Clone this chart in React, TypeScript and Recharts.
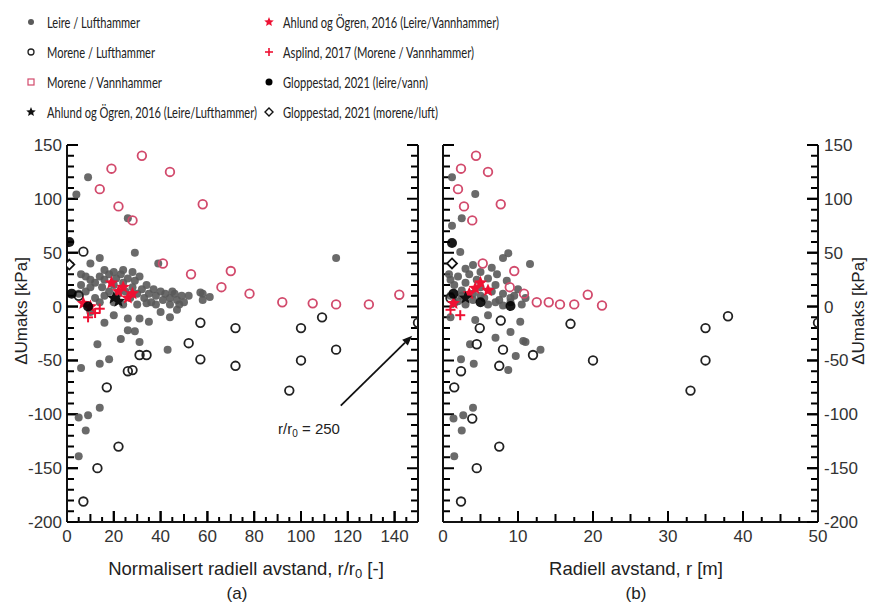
import { ScatterChart, Scatter, XAxis, YAxis, ReferenceLine } from 'recharts';

// ---------- panel (a): normalisert radiell avstand r/r0 ----------
const leireLuftA = [
  [9, 120], [4, 104], [26, 82], [29, 50], [39, 40], [14, 45], [10, 40], [115, 45],
  [58, 12], [61, 9], [58, 6], [46, 12], [57, 13],
  [6, 30], [8, 28], [10, 25], [12, 22], [14, 28], [15, 18], [16, 25], [18, 30], [18, 14],
  [20, 20], [21, 26], [22, 12], [23, 30], [24, 22], [25, 14], [26, 26], [27, 8], [28, 18],
  [29, 24], [30, 12], [31, 28], [32, 16], [33, 8], [34, 20], [35, 12], [36, 4], [37, 16],
  [38, 10], [40, 14], [41, 6], [42, 12], [44, 8], [45, 14], [47, 6], [49, 10], [12, 8],
  [14, 4], [16, 10], [8, 14], [10, 18], [6, 20], [5, 12], [20, 4], [24, 2], [30, 2],
  [34, 3], [38, 2], [44, 2], [48, 2], [50, 4], [52, 10], [28, 32], [24, 34], [20, 32], [16, 34],
  [26, -11], [31, -11], [35, -14], [16, -15], [26, -22], [29, -23], [23, -30], [31, -33],
  [13, -35], [43, -40], [18, -49], [14, -53], [6, -57], [5, -103], [9, -101], [14, -94],
  [8, -115], [5, -139], [20, -8], [40, -5], [47, -3], [10, -5], [44, -10],
];
const moreneLuftA = [
  [5, 10], [7, 51], [57, -15], [72, -20], [52, -34], [57, -49], [72, -55], [34, -45], [31, -45],
  [28, -59], [26, -60], [100, -20], [109, -10], [115, -40], [100, -50], [95, -78], [17, -75],
  [22, -130], [13, -150], [7, -181], [150, -15],
];
const moreneVannA = [
  [32, 140], [44, 125], [19, 128], [14, 109], [22, 93], [28, 80], [58, 95], [41, 40], [53, 30],
  [70, 33], [66, 18], [78, 12], [92, 4], [105, 3], [115, 2], [129, 2], [142, 11],
];
const ahlundLuftA = [[20, 8], [22, 5]];
const ahlundVannA = [[7, 3], [24, 18], [26, 8], [19, 22], [22, 14], [28, 12], [10, 0]];
const asplindA = [[12, -6], [9, -10], [14, -2]];
const glopVannA = [[1, 60], [9, 0], [2, 12]];
const glopLuftA = [[1, 39]];

// ---------- panel (b): radiell avstand r [m] ----------
const leireLuftB = [
  [1.2, 120], [4.3, 104.5], [2.5, 82], [1.2, 75], [2.3, 50.6], [11.6, 39.5], [8.7, 49.6], [8, 45],
  [7.2, 30], [4, 38.6], [0.8, 30],
  [1, 25], [1.5, 20], [2, 28], [2.5, 15], [3, 22], [3.5, 30], [4, 12], [4.5, 25], [5, 18],
  [5.5, 8], [6, 26], [6.5, 14], [7, 20], [7.5, 6], [8, 12], [8.5, 24], [9, 4], [9.5, 10],
  [10, 16], [2, 5], [3, 2], [4, 6], [6, 2], [7, 4], [8, 1], [9, 8], [1, 10], [1.5, 3],
  [3, 35], [5, 32], [6.5, 36], [2.5, 10], [5, 10], [11, 8], [10.5, 2],
  [4.3, -12.5], [10.3, -14], [9, -23.5], [7, -29], [10.7, -32], [3.6, -35], [9.7, -46],
  [13, -40], [2.4, -49], [4.1, -53], [8.7, -59], [1.4, -104], [2.7, -101], [4, -94],
  [2.5, -115], [1.5, -139], [11, -33], [1, -10], [6, -8],
];
const moreneLuftB = [
  [17, -16], [4.9, -20], [4.5, -35], [8, -40], [12, -45], [20, -50], [2.4, -60], [7.5, -55],
  [1.5, -75], [3.9, -104], [7.5, -130], [4.5, -150], [2.4, -181], [33, -78], [35, -50],
  [35, -20], [38, -9], [50, -15], [7.7, -13], [1, 8],
];
const moreneVannB = [
  [4.4, 140], [2.4, 128], [6, 125], [2, 109], [2.8, 93], [7.7, 95], [3.9, 80], [5.3, 40],
  [9.5, 33], [8.9, 18], [10.8, 12], [12.5, 4], [14.1, 4], [15.6, 2], [17.5, 2], [19.3, 11], [21.2, 1],
];
const ahlundLuftB = [[3, 8]];
const ahlundVannB = [[4.3, 17], [5, 22], [1.4, 3], [3.5, 12], [6, 15]];
const asplindB = [[2.3, -8], [1, -3]];
const glopVannB = [[1.2, 59], [1.4, 12], [5, 4], [9, 0.5]];
const glopLuftB = [[1.2, 40]];

// tick labels
const yLabels = [-200, -150, -100, -50, 0, 50, 100, 150];
const xLabelsA = [0, 20, 40, 60, 80, 100, 120, 140];
const xLabelsB = [0, 10, 20, 30, 40, 50];

const steps = (a: number, b: number, s: number) => {
  const out: number[] = [];
  for (let v = a; v <= b + 1e-9; v += s) out.push(Math.round(v * 100) / 100);
  return out;
};
const yMinor = steps(-200, 150, 10).filter((v) => !yLabels.includes(v));
const xMidA = steps(0, 150, 10).filter((v) => !xLabelsA.includes(v));
const xMinorA = steps(0, 150, 5).filter((v) => v % 10 !== 0);
const xMidB = steps(0, 50, 5).filter((v) => !xLabelsB.includes(v));
const xMinorB = steps(0, 50, 2.5).filter((v) => v % 5 !== 0);

const GREY = '#5a5a5a';
const PINK = '#d24a6c';
const RED = '#ee1133';
const TICK_FONT = '"Liberation Sans", Arial, sans-serif';
const MAJOR = 11; // inward length of labelled ticks
const GAP = 5; // label distance from the axis line

// labels only (x, y already hold the label anchor)
function makeTick(side: 'left' | 'right' | 'bottom', labels: number[]) {
  return (props: any) => {
    const x = Number(props.x);
    const y = Number(props.y);
    const v = Number(props.payload.value);
    if (!labels.includes(v)) return <g />;
    if (side === 'left') {
      return <text x={x} y={y} dy={6} textAnchor="end" fontSize={17} fontFamily={TICK_FONT} fill="#333">{v}</text>;
    }
    if (side === 'right') {
      return <text x={x} y={y} dy={6} textAnchor="start" fontSize={17} fontFamily={TICK_FONT} fill="#333">{v}</text>;
    }
    return <text x={x} y={y} dy={15} textAnchor="middle" fontSize={17} fontFamily={TICK_FONT} fill="#333">{v}</text>;
  };
}

// minor ticks: short stubs at the ends of reference lines
const hStub = (len: number) => (p: any) => {
  const a = Math.min(Number(p.x1), Number(p.x2));
  const b = Math.max(Number(p.x1), Number(p.x2));
  const y = Number(p.y1);
  return (
    <path d={`M${a},${y}H${a + len}M${b - len},${y}H${b}`} stroke="#000" strokeWidth={2} fill="none" />
  );
};
const vStub = (len: number) => (p: any) => {
  const yb = Math.max(Number(p.y1), Number(p.y2));
  const x = Number(p.x1);
  return <path d={`M${x},${yb}V${yb - len}`} stroke="#000" strokeWidth={2} fill="none" />;
};

function tickLines(xLabels: number[], xMid: number[], xMinor: number[]) {
  return [
    ...yLabels.map((v) => <ReferenceLine key={`ym${v}`} y={v} shape={hStub(MAJOR)} ifOverflow="visible" />),
    ...yMinor.map((v) => <ReferenceLine key={`yn${v}`} y={v} shape={hStub(7)} ifOverflow="visible" />),
    ...xLabels.map((v) => <ReferenceLine key={`xm${v}`} x={v} shape={vStub(MAJOR)} ifOverflow="visible" />),
    ...xMid.map((v) => <ReferenceLine key={`xd${v}`} x={v} shape={vStub(8)} ifOverflow="visible" />),
    ...xMinor.map((v) => <ReferenceLine key={`xn${v}`} x={v} shape={vStub(5)} ifOverflow="visible" />),
  ];
}

const dotFilled = (color: string, r: number) => (p: any) =>
  <circle cx={p.cx} cy={p.cy} r={r} fill={color} fillOpacity={0.9} />;
const dotOpen = (color: string) => (p: any) =>
  <circle cx={p.cx} cy={p.cy} r={4.3} fill="none" stroke={color} strokeWidth={1.8} />;
const starPath = (cx: number, cy: number, R: number) => {
  const pts: string[] = [];
  for (let i = 0; i < 10; i++) {
    const r = i % 2 === 0 ? R : R * 0.45;
    const a = -Math.PI / 2 + (i * Math.PI) / 5;
    pts.push(`${cx + r * Math.cos(a)},${cy + r * Math.sin(a)}`);
  }
  return pts.join(' ');
};
const star = (color: string, R: number) => (p: any) =>
  <polygon points={starPath(p.cx, p.cy, R)} fill={color} />;
const plus = (color: string, s: number) => (p: any) => (
  <g stroke={color} strokeWidth={2}>
    <line x1={p.cx - s} x2={p.cx + s} y1={p.cy} y2={p.cy} />
    <line x1={p.cx} x2={p.cx} y1={p.cy - s} y2={p.cy + s} />
  </g>
);
const diamond = (s: number) => (p: any) =>
  <polygon points={`${p.cx},${p.cy - s} ${p.cx + s},${p.cy} ${p.cx},${p.cy + s} ${p.cx - s},${p.cy}`}
    fill="#fff" stroke="#111" strokeWidth={1.8} />;

const arrowShape = (p: any) => {
  const { x1, y1, x2, y2 } = p;
  const ang = Math.atan2(y2 - y1, x2 - x1);
  const h = 10;
  const w = 4;
  const bx = x2 - h * Math.cos(ang);
  const by = y2 - h * Math.sin(ang);
  const left = `${bx + w * Math.sin(ang)},${by - w * Math.cos(ang)}`;
  const right = `${bx - w * Math.sin(ang)},${by + w * Math.cos(ang)}`;
  return (
    <g>
      <line x1={x1} y1={y1} x2={bx} y2={by} stroke="#111" strokeWidth={1.8} />
      <polygon points={`${x2},${y2} ${left} ${right}`} fill="#111" />
    </g>
  );
};

const pts = (arr: number[][]) => arr.map(([x, y]) => ({ x, y }));

function series(
  leire: number[][], morL: number[][], morV: number[][], ahL: number[][],
  ahV: number[][], asp: number[][], gV: number[][], gL: number[][],
) {
  return [
    <Scatter key="a" data={pts(leire)} shape={dotFilled(GREY, 4)} isAnimationActive={false} />,
    <Scatter key="b" data={pts(morL)} shape={dotOpen('#222')} isAnimationActive={false} />,
    <Scatter key="c" data={pts(morV)} shape={dotOpen(PINK)} isAnimationActive={false} />,
    <Scatter key="d" data={pts(ahV)} shape={star(RED, 7)} isAnimationActive={false} />,
    <Scatter key="e" data={pts(asp)} shape={plus(RED, 5)} isAnimationActive={false} />,
    <Scatter key="f" data={pts(ahL)} shape={star('#111', 7)} isAnimationActive={false} />,
    <Scatter key="g" data={pts(gV)} shape={dotFilled('#000', 5)} isAnimationActive={false} />,
    <Scatter key="h" data={pts(gL)} shape={diamond(5)} isAnimationActive={false} />,
  ];
}

const legendLeft = [
  { label: 'Leire / Lufthammer', kind: 'grey' },
  { label: 'Morene / Lufthammer', kind: 'open' },
  { label: 'Morene / Vannhammer', kind: 'pinkSq' },
  { label: 'Ahlund og Ögren, 2016 (Leire/Lufthammer)', kind: 'blackStar' },
];
const legendRight = [
  { label: 'Ahlund og Ögren, 2016 (Leire/Vannhammer)', kind: 'redStar' },
  { label: 'Asplind, 2017 (Morene / Vannhammer)', kind: 'plus' },
  { label: 'Gloppestad, 2021 (leire/vann)', kind: 'black' },
  { label: 'Gloppestad, 2021 (morene/luft)', kind: 'diamond' },
];
// rendered text widths in the reference (layout only)
const legendWidthsLeft = [93, 108, 115, 210];
const legendWidthsRight = [216, 191, 145, 155];
const SX = 0.75;

function LegendMark({ kind, x, y }: { kind: string; x: number; y: number }) {
  switch (kind) {
    case 'grey': return <circle cx={x} cy={y} r={3} fill={GREY} />;
    case 'open': return <circle cx={x} cy={y} r={3} fill="none" stroke="#222" strokeWidth={1.3} />;
    case 'pinkSq': return <rect x={x - 3} y={y - 3} width={6} height={6} fill="none" stroke={PINK} strokeWidth={1.2} />;
    case 'blackStar': return <polygon points={starPath(x, y, 5)} fill="#111" />;
    case 'redStar': return <polygon points={starPath(x, y, 5)} fill={RED} />;
    case 'plus': return (
      <g stroke={RED} strokeWidth={1.6}>
        <line x1={x - 4} x2={x + 4} y1={y} y2={y} /><line x1={x} x2={x} y1={y - 4} y2={y + 4} />
      </g>
    );
    case 'black': return <circle cx={x} cy={y} r={3.5} fill="#000" />;
    default: return <polygon points={`${x},${y - 4} ${x + 4},${y} ${x},${y + 4} ${x - 4},${y}`} fill="#fff" stroke="#111" strokeWidth={1.4} />;
  }
}

const LEG_FONT = 'Lato, "Open Sans", sans-serif';
const legendRows = [22, 52, 82, 112];

const LegendText = ({ x, y, w, label }: { x: number; y: number; w: number; label: string }) => (
  <text transform={`translate(${x},${y + 6}) scale(${SX},1)`} fontSize={16} fontFamily={LEG_FONT} fill="#222"
    textLength={w / SX} lengthAdjust="spacingAndGlyphs">{label}</text>
);

const axisLine = { stroke: '#111', strokeWidth: 2 };
const tickLine = { stroke: '#000', strokeWidth: 2 };

export default function App() {
  return (
    <div style={{ position: 'absolute', left: 0, top: 0, width: 882, height: 604, background: '#fff' }}>
      <div style={{ position: 'absolute', left: 0, top: 0 }}>
        <ScatterChart width={430} height={604} margin={{ top: 145, left: 27, right: 8, bottom: 52 }}>
          <XAxis type="number" dataKey="x" domain={[0, 150]} ticks={xLabelsA} interval={0}
            allowDataOverflow tickSize={-MAJOR} tickMargin={MAJOR + GAP} height={30}
            axisLine={axisLine} tickLine={tickLine} tick={makeTick('bottom', xLabelsA)} />
          <YAxis type="number" dataKey="y" domain={[-200, 150]} ticks={yLabels} interval={0}
            allowDataOverflow tickSize={-MAJOR} tickMargin={MAJOR + GAP} width={40}
            axisLine={axisLine} tickLine={tickLine} tick={makeTick('left', yLabels)} />
          <YAxis yAxisId="r" orientation="right" type="number" domain={[-200, 150]} ticks={yLabels} interval={0}
            allowDataOverflow tickSize={-MAJOR} width={4} axisLine={axisLine} tickLine={tickLine} tick={false} />
          {tickLines(xLabelsA, xMidA, xMinorA)}
          {series(leireLuftA, moreneLuftA, moreneVannA, ahlundLuftA, ahlundVannA, asplindA, glopVannA, glopLuftA)}
          <ReferenceLine segment={[{ x: 117, y: -92 }, { x: 147.5, y: -27 }]} shape={arrowShape} ifOverflow="visible" />
        </ScatterChart>
      </div>
      <div style={{ position: 'absolute', left: 430, top: 0 }}>
        <ScatterChart width={452} height={604} margin={{ top: 145, left: 9, right: 19, bottom: 52 }}>
          <XAxis type="number" dataKey="x" domain={[0, 50]} ticks={xLabelsB} interval={0}
            allowDataOverflow tickSize={-MAJOR} tickMargin={MAJOR + GAP} height={30}
            axisLine={axisLine} tickLine={tickLine} tick={makeTick('bottom', xLabelsB)} />
          <YAxis yAxisId="l" type="number" domain={[-200, 150]} ticks={yLabels} interval={0}
            allowDataOverflow tickSize={-MAJOR} width={4} axisLine={axisLine} tickLine={tickLine} tick={false} />
          <YAxis type="number" dataKey="y" orientation="right" domain={[-200, 150]} ticks={yLabels} interval={0}
            allowDataOverflow tickSize={-MAJOR} tickMargin={MAJOR + GAP + 1} width={45}
            axisLine={axisLine} tickLine={tickLine} tick={makeTick('right', yLabels)} />
          {tickLines(xLabelsB, xMidB, xMinorB)}
          {series(leireLuftB, moreneLuftB, moreneVannB, ahlundLuftB, ahlundVannB, asplindB, glopVannB, glopLuftB)}
        </ScatterChart>
      </div>
      <svg width={882} height={604} style={{ position: 'absolute', left: 0, top: 0, pointerEvents: 'none' }}>
        {legendLeft.map((it, i) => (
          <g key={it.label}>
            <LegendMark kind={it.kind} x={31} y={legendRows[i]} />
            <LegendText x={47} y={legendRows[i]} w={legendWidthsLeft[i]} label={it.label} />
          </g>
        ))}
        {legendRight.map((it, i) => (
          <g key={it.label}>
            <LegendMark kind={it.kind} x={269} y={legendRows[i]} />
            <LegendText x={283} y={legendRows[i]} w={legendWidthsRight[i]} label={it.label} />
          </g>
        ))}
        <text transform="translate(27,311) rotate(-90)" textAnchor="middle" fontSize={17} fontFamily={TICK_FONT} fill="#222">ΔUmaks [kPa]</text>
        <text transform="translate(864,311) rotate(-90)" textAnchor="middle" fontSize={17} fontFamily={TICK_FONT} fill="#222">ΔUmaks [kPa]</text>
        <text x={246} y={575} textAnchor="middle" fontSize={18.5} fontFamily={TICK_FONT} fill="#222">
          Normalisert radiell avstand, r/r<tspan fontSize={13} dy={3}>0</tspan><tspan dy={-3}> [-]</tspan>
        </text>
        <text x={237} y={599} textAnchor="middle" fontSize={17} fontFamily={TICK_FONT} fill="#222">(a)</text>
        <text x={636} y={575} textAnchor="middle" fontSize={18.5} fontFamily={TICK_FONT} fill="#222">Radiell avstand, r [m]</text>
        <text x={636} y={599} textAnchor="middle" fontSize={17} fontFamily={TICK_FONT} fill="#222">(b)</text>
        <text x={309} y={434} textAnchor="middle" fontSize={15} fontFamily={TICK_FONT} fill="#222">
          r/r<tspan fontSize={10} dy={3}>0</tspan><tspan dy={-3}> = 250</tspan>
        </text>
      </svg>
    </div>
  );
}
